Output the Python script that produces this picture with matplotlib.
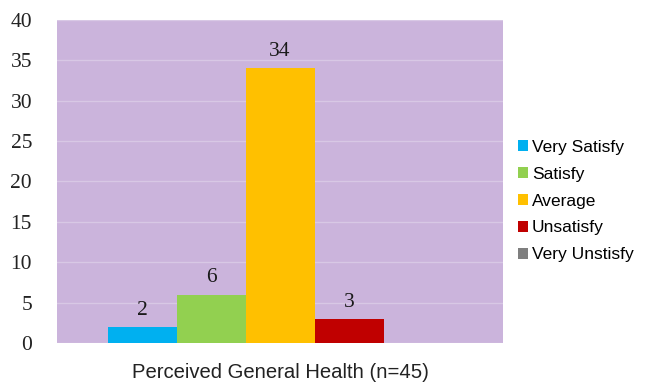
import matplotlib
matplotlib.use("Agg")
import matplotlib.pyplot as plt
from matplotlib.patches import Patch

categories = ["Very Satisfy", "Satisfy", "Average", "Unsatisfy", "Very Unstisfy"]
values = [2, 6, 34, 3, 0]
colors = ["#00B0F0", "#92D050", "#FFC000", "#C00000", "#7F7F7F"]
yticks = [0, 5, 10, 15, 20, 25, 30, 35, 40]
xlabel = "Perceived General Health (n=45)"

fig = plt.figure(figsize=(6.51, 3.85), dpi=100)
ax = fig.add_axes([57 / 651, 1 - 343 / 385, 446 / 651, 323 / 385])
ax.set_facecolor("#CBB4DC")

positions = [i - (len(values) - 1) / 2 for i in range(len(values))]
half = (446 / 69) / 2
bars = ax.bar(positions, values, width=1.0, color=colors, zorder=3)
for pos, v in zip(positions, values):
    if v > 0:
        ax.text(pos, v + 0.9, str(v), ha="center", va="bottom",
                fontsize=15.5, family="Liberation Serif", color="#1a1a1a", zorder=4)

ax.set_xlim(-half, half)
ax.set_ylim(0, 40)
ax.set_yticks(yticks)
ax.set_yticklabels([str(t) for t in yticks], family="Liberation Serif", fontsize=15.5, color="#222222")
ax.set_xticks([])
ax.tick_params(axis="y", length=0, pad=18)
ax.yaxis.grid(True, color="#D8C8E5", linewidth=1.0, zorder=1)
for s in ax.spines.values():
    s.set_visible(False)

ax.text(0.5, -0.062, xlabel, transform=ax.transAxes, ha="center", va="top",
        fontsize=14.6, family="Liberation Sans", color="#222222")

handles = [Patch(facecolor=c, edgecolor="none") for c in colors]
fig.legend(handles, categories, loc="upper left", bbox_to_anchor=(518 / 651, 1 - 140 / 385),
           frameon=False, prop={"family": "Liberation Sans", "size": 12.5},
           handlelength=0.55, handleheight=0.6, handletextpad=0.25, labelspacing=0.68,
           borderaxespad=0, borderpad=0)

fig.savefig("out.png", dpi=100, facecolor="white")
